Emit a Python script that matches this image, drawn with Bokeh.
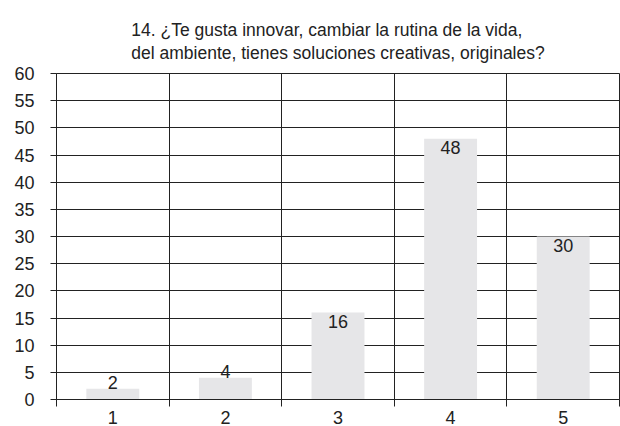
from bokeh.plotting import figure
from bokeh.models import ColumnDataSource, FixedTicker, Range1d
from bokeh.core.properties import value
from bokeh.embed import file_html
from bokeh.resources import INLINE

title_lines = ["14. ¿Te gusta innovar, cambiar la rutina de la vida,",
               "del ambiente, tienes soluciones creativas, originales?"]
categories = ["1", "2", "3", "4", "5"]
positions = [1, 2, 3, 4, 5]
values = [2, 4, 16, 48, 30]
y_ticks = list(range(0, 61, 5))

FONT = "Liberation Sans"

inside = [v >= 10 for v in values]
src_in = ColumnDataSource(dict(x=[p for p, i in zip(positions, inside) if i],
                               y=[v for v, i in zip(values, inside) if i],
                               t=[str(v) for v, i in zip(values, inside) if i]))
src_out = ColumnDataSource(dict(x=[p for p, i in zip(positions, inside) if not i],
                                y=[v for v, i in zip(values, inside) if not i],
                                t=[str(v) for v, i in zip(values, inside) if not i]))

p = figure(width=620, height=426, output_backend="svg", toolbar_location=None,
           x_range=Range1d(0.5, 5.5), y_range=Range1d(0, 60),
           min_border_left=56, min_border_right=1, min_border_top=73, min_border_bottom=26)

p.title.text = "\n".join(title_lines)
p.title.align = "center"
p.title.text_font = FONT
p.title.text_font_size = "17.5px"
p.title.text_font_style = "normal"
p.title.text_color = "#222222"
p.title.text_line_height = 1.15
p.title.standoff = 21
p.title.offset = -8

p.vbar(x=positions, top=values, width=0.47, color="#e6e6e8", line_color=None)

p.text(x="x", y="y", text="t", source=src_in, text_align="center", text_baseline="top",
       y_offset=2, text_font=value(FONT), text_font_size="18px", text_color="#222222")
p.text(x="x", y="y", text="t", source=src_out, text_align="center", text_baseline="bottom",
       y_offset=0, text_font=value(FONT), text_font_size="18px", text_color="#222222")

p.outline_line_color = "#222222"
p.outline_line_width = 1

p.xgrid.ticker = FixedTicker(ticks=[0.5, 1.5, 2.5, 3.5, 4.5, 5.5])
p.ygrid.ticker = FixedTicker(ticks=y_ticks)
p.xgrid.grid_line_color = "#222222"
p.ygrid.grid_line_color = "#222222"

p.xaxis.ticker = FixedTicker(ticks=positions, minor_ticks=[0.5, 1.5, 2.5, 3.5, 4.5, 5.5])
p.xaxis.major_label_overrides = {pos: c for pos, c in zip(positions, categories)}
p.xaxis.major_tick_line_color = None
p.xaxis.minor_tick_in = 0
p.xaxis.minor_tick_out = 7
p.xaxis.minor_tick_line_color = "#222222"
p.xaxis.axis_line_color = "#222222"
p.xaxis.major_label_text_font = FONT
p.xaxis.major_label_text_font_size = "18px"
p.xaxis.major_label_text_color = "#222222"
p.xaxis.major_label_standoff = 4

p.yaxis.ticker = FixedTicker(ticks=y_ticks)
p.yaxis.major_tick_in = 0
p.yaxis.major_tick_out = 6
p.yaxis.minor_tick_line_color = None
p.yaxis.major_tick_line_color = "#222222"
p.yaxis.axis_line_color = "#222222"
p.yaxis.major_label_text_font = FONT
p.yaxis.major_label_text_font_size = "18px"
p.yaxis.major_label_text_color = "#222222"
p.yaxis.major_label_standoff = 16

open("out.html", "w").write(file_html(p, INLINE))
